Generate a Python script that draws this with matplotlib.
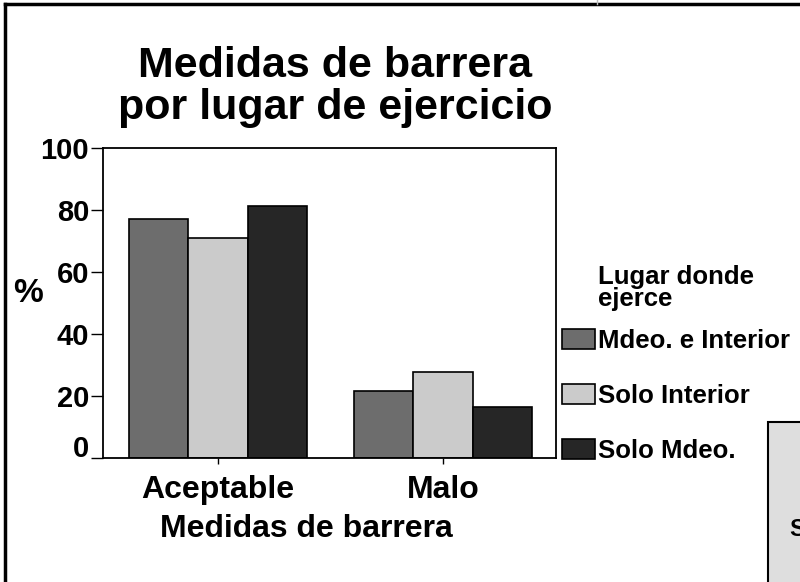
import matplotlib
matplotlib.use("Agg")
import matplotlib.pyplot as plt
import matplotlib.transforms as mtransforms
from matplotlib.patches import Rectangle
from matplotlib.lines import Line2D
import numpy as np

# datos
categorias = ["Aceptable", "Malo"]
series = ["Mdeo. e Interior", "Solo Interior", "Solo Mdeo."]
mdeo_interior = [77, 21.5]
solo_interior = [71, 27.8]
solo_mdeo = [81.3, 16.5]
y_ticks = [0, 20, 40, 60, 80, 100]

colores = ["#6d6d6d", "#cbcbcb", "#262626"]

plt.rcParams["font.family"] = ["Liberation Sans", "DejaVu Sans"]
plt.rcParams["font.weight"] = "bold"

fig = plt.figure(figsize=(8, 5.82), dpi=100)
ax = fig.add_axes([103 / 800, 1 - 458 / 582, 453 / 800, 310 / 582])

x = np.arange(len(categorias))
ancho = 0.265
valores = [mdeo_interior, solo_interior, solo_mdeo]
barras = []
for i, (vals, col) in enumerate(zip(valores, colores)):
    b = ax.bar(x + (i - 1) * ancho, vals, ancho, color=col,
               edgecolor="black", linewidth=1.2, label=series[i])
    barras.append(b)

ax.set_xlim(-0.511, 1.502)
ax.set_ylim(0, 100)
ax.set_xticks(x)
ax.set_xticklabels(categorias, fontsize=23, fontweight="bold")
ax.set_yticks(y_ticks)
ax.set_yticklabels([str(t) for t in y_ticks], fontsize=21, fontweight="bold")
ax.tick_params(axis="x", length=4, width=1, pad=8)
ax.tick_params(axis="y", length=9, width=1, pad=1)
for s in ax.spines.values():
    s.set_linewidth(1.3)

# el "0" va un poco por encima del eje
lbl0 = ax.get_yticklabels()[0]
lbl0.set_transform(lbl0.get_transform() +
                   mtransforms.ScaledTranslation(0, 12 / 100, fig.dpi_scale_trans))

ax.set_xlabel("Medidas de barrera", fontsize=23, fontweight="bold")
ax.xaxis.set_label_coords((306 - 103) / 453, -(514 - 458) / 310)
fig.text(28 / 800, 1 - 294 / 582, "%", fontsize=24, fontweight="bold",
         ha="center", va="center")

fig.text(335 / 800, 1 - 46 / 582, "Medidas de barrera\npor lugar de ejercicio",
         fontsize=31, fontweight="bold", ha="center", va="top", linespacing=1.08)

# leyenda
fig.text(598 / 800, 1 - 265 / 582, "Lugar donde\nejerce", fontsize=18.5,
         fontweight="bold", ha="left", va="top", linespacing=0.92)
fig.legend(handles=barras, labels=series, loc="upper left",
           bbox_to_anchor=(562 / 800, 1 - 329 / 582), frameon=False,
           prop={"size": 18.5, "weight": "bold"}, borderpad=0, borderaxespad=0,
           handlelength=1.3, handleheight=0.85, handletextpad=0.1,
           labelspacing=1.2)

# marco exterior y recuadro cortado
fig.add_artist(Line2D([5 / 800, 5 / 800], [0, 1 - 4 / 582], color="black",
                      linewidth=2.5, transform=fig.transFigure))
fig.add_artist(Line2D([5 / 800, 1], [1 - 4 / 582, 1 - 4 / 582], color="black",
                      linewidth=2.5, transform=fig.transFigure))
fig.add_artist(Line2D([597 / 800, 597 / 800], [1 - 4 / 582, 1], color="#bbbbbb",
                      linewidth=1, transform=fig.transFigure))
fig.add_artist(Rectangle((768 / 800, -0.01), 0.1, (582 - 422) / 582 + 0.01,
                         facecolor="#dedede", edgecolor="black", linewidth=1.5,
                         transform=fig.transFigure))
fig.text(789 / 800, 1 - 530 / 582, "S", fontsize=17, fontweight="bold",
         ha="left", va="center")

fig.savefig("out.png", dpi=100)
